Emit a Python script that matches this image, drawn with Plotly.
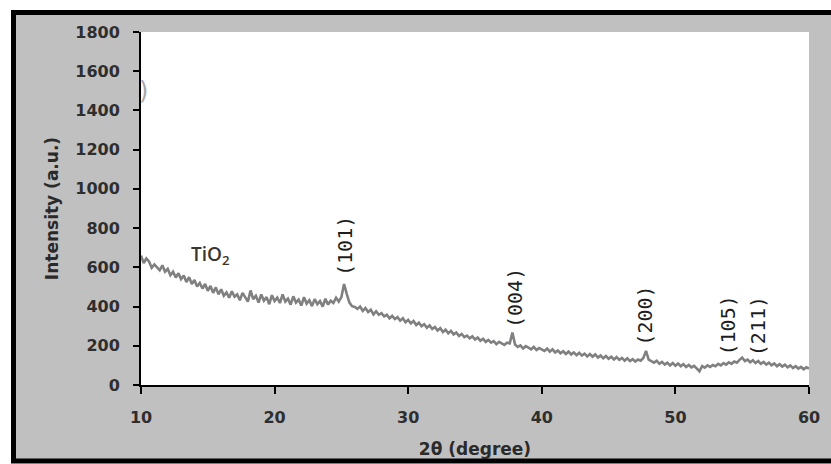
import plotly.graph_objects as go

# 2-theta scan, 0.2 degree steps from 10 to 60
two_theta = [round(10 + 0.2 * i, 1) for i in range(251)]

intensity = [
    660, 622, 645, 630, 598,   # 10
    615, 600, 585, 610, 578,   # 11
    592, 560, 578, 548, 570,   # 12
    540, 558, 525, 550, 515,   # 13
    535, 502, 520, 492, 515,   # 14
    480, 505, 470, 498, 462,   # 15
    488, 455, 472, 445, 478,   # 16
    450, 462, 432, 470, 448,   # 17
    425, 482, 438, 455, 420,   # 18
    462, 430, 448, 412, 458,   # 19
    428, 445, 418, 462, 425,   # 20
    440, 410, 452, 420, 435,   # 21
    405, 448, 415, 432, 402,   # 22
    438, 412, 428, 400, 440,   # 23
    410, 430, 418, 445, 425,   # 24
    448, 515, 465, 420, 402,   # 25
    398, 388, 400, 378, 392,   # 26
    372, 384, 360, 376, 358,   # 27
    366, 350, 358, 340, 352,   # 28
    336, 346, 328, 340, 320,   # 29
    332, 314, 326, 306, 318,   # 30
    300, 310, 292, 304, 286,   # 31
    296, 278, 290, 270, 282,   # 32
    264, 276, 258, 268, 250,   # 33
    260, 244, 252, 238, 248,   # 34
    232, 242, 226, 236, 220,   # 35
    230, 216, 224, 208, 220,   # 36
    212, 204, 216, 212, 268,   # 37
    206, 194, 202, 186, 198,   # 38
    190, 182, 194, 178, 188,   # 39
    180, 174, 186, 170, 182,   # 40
    166, 176, 162, 172, 158,   # 41
    170, 156, 166, 152, 164,   # 42
    150, 160, 146, 158, 144,   # 43
    156, 140, 150, 136, 148,   # 44
    134, 144, 130, 142, 128,   # 45
    138, 124, 136, 122, 132,   # 46
    120, 130, 124, 138, 174,   # 47
    130, 120, 114, 124, 108,   # 48
    118, 104, 114, 100, 112,   # 49
    98, 110, 96, 106, 92,      # 50
    102, 90, 98, 86, 70,       # 51
    96, 88, 100, 92, 102,      # 52
    96, 108, 100, 112, 104,    # 53
    116, 108, 120, 114, 128,   # 54
    140, 122, 130, 116, 126,   # 55
    112, 122, 108, 118, 104,   # 56
    114, 100, 110, 96, 106,    # 57
    94, 104, 90, 100, 86,      # 58
    96, 84, 92, 80, 90,        # 59
    84,                        # 60
]

# Miller-index labels placed above the anatase reflections
peak_labels = ["(101)", "(004)", "(200)", "(105)", "(211)"]
peak_label_x = [25.27, 38.0, 47.7, 53.9, 56.2]
peak_label_y = [709, 444, 352, 301, 301]

x_ticks = [10, 20, 30, 40, 50, 60]
y_ticks = [0, 200, 400, 600, 800, 1000, 1200, 1400, 1600, 1800]

W, H = 831, 464
L, R, T, B = 141, 22, 32, 79
pw, ph = W - L - R, H - T - B


def px_x(px):
    return (px - L) / pw


def px_y(py):
    return (H - B - py) / ph


tick_font = dict(family="DejaVu Sans", size=16, color="#2e2e2e", weight="bold")

fig = go.Figure()
fig.add_trace(go.Scatter(
    x=two_theta, y=intensity, mode="lines",
    line=dict(color="#808080", width=2.6),
    showlegend=False, hoverinfo="skip",
))

for lab, lx, ly in zip(peak_labels, peak_label_x, peak_label_y):
    fig.add_annotation(
        x=lx, y=ly, xref="x", yref="y", text=lab, textangle=-90,
        xanchor="center", yanchor="middle",
        showarrow=False, font=dict(family="DejaVu Sans Mono", size=20, color="#1e1e1e"),
    )

fig.add_annotation(
    x=15.2, y=663, xref="x", yref="y", text="TiO<sub>2</sub>", showarrow=False,
    xanchor="center", yanchor="middle",
    font=dict(family="Open Sans", size=19, color="#3a352e", weight=600),
)

# faint stray glyph near the top of the y axis
fig.add_annotation(
    x=px_x(143), y=px_y(91), xref="paper", yref="paper", text=")", showarrow=False,
    xanchor="center", yanchor="middle",
    font=dict(family="DejaVu Sans", size=24, color="#a8a8a8"),
)

# grey chart-area panel with heavy black frame, white plotting area on top
fig.add_shape(
    type="rect", xref="paper", yref="paper", layer="below",
    x0=px_x(13.5), x1=px_x(850), y0=px_y(461), y1=px_y(12.5),
    fillcolor="#c0c0c0", line=dict(color="#000000", width=5),
)
fig.add_shape(
    type="rect", xref="paper", yref="paper", layer="below",
    x0=0, x1=1, y0=0, y1=1,
    fillcolor="#ffffff", line=dict(width=0),
)

fig.update_layout(
    width=W, height=H,
    margin=dict(l=L, r=R, t=T, b=B, pad=0, autoexpand=False),
    paper_bgcolor="#ffffff", plot_bgcolor="#ffffff",
    xaxis=dict(
        range=[10, 60], tickvals=x_ticks, ticks="outside", ticklen=7, tickwidth=2,
        tickcolor="#000", showline=True, linecolor="#000", linewidth=2,
        showgrid=False, zeroline=False, tickfont=tick_font, ticklabelstandoff=10,
        automargin=False,
        title=dict(text="2θ (degree)", standoff=17,
                   font=dict(family="DejaVu Sans", size=17, color="#2a2a2a", weight="bold")),
    ),
    yaxis=dict(
        range=[0, 1800], tickvals=y_ticks, ticks="outside", ticklen=6, tickwidth=2,
        tickcolor="#000", showline=True, linecolor="#000", linewidth=2,
        showgrid=False, zeroline=False, tickfont=tick_font, ticklabelstandoff=10,
        automargin=False,
        title=dict(text="Intensity (a.u.)", standoff=12,
                   font=dict(family="DejaVu Sans", size=17, color="#2a2a2a", weight="bold")),
    ),
)

fig.write_html("out.html")
